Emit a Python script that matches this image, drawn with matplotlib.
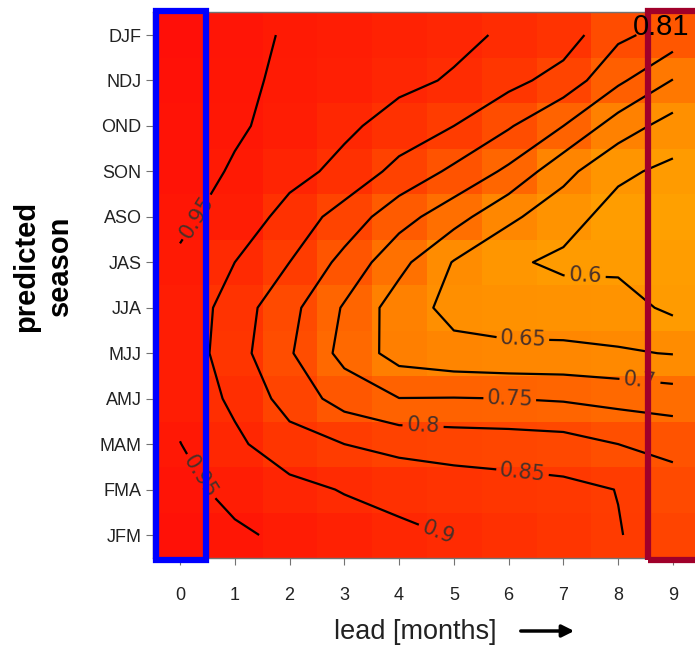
import numpy as np
import matplotlib
matplotlib.use("Agg")
import matplotlib.pyplot as plt
from matplotlib.colors import LinearSegmentedColormap
from matplotlib.patches import Rectangle, FancyArrowPatch

plt.rcParams["font.family"] = ["Liberation Sans", "DejaVu Sans"]

# lead time in months and predicted 3-month season (bottom to top)
leads = list(range(10))
seasons = ["JFM", "FMA", "MAM", "AMJ", "MJJ", "JJA",
           "JAS", "ASO", "SON", "OND", "NDJ", "DJF"]

# correlation skill per predicted season, lead 0..9
jfm = [0.975, 0.958, 0.940, 0.925, 0.910, 0.898, 0.885, 0.870, 0.852, 0.830]
fma = [0.965, 0.935, 0.915, 0.897, 0.885, 0.875, 0.868, 0.862, 0.849, 0.815]
mam = [0.951, 0.910, 0.870, 0.850, 0.835, 0.828, 0.825, 0.820, 0.800, 0.790]
amj = [0.935, 0.890, 0.830, 0.780, 0.751, 0.752, 0.750, 0.745, 0.735, 0.725]
mjj = [0.935, 0.870, 0.805, 0.735, 0.680, 0.665, 0.660, 0.660, 0.655, 0.648]
jja = [0.938, 0.875, 0.815, 0.745, 0.675, 0.635, 0.628, 0.625, 0.620, 0.590]
jas = [0.945, 0.900, 0.850, 0.785, 0.715, 0.647, 0.608, 0.590, 0.590, 0.580]
aso = [0.957, 0.935, 0.880, 0.830, 0.770, 0.720, 0.660, 0.620, 0.580, 0.570]
son = [0.967, 0.946, 0.918, 0.885, 0.835, 0.790, 0.740, 0.665, 0.610, 0.588]
ond = [0.970, 0.955, 0.938, 0.910, 0.880, 0.850, 0.805, 0.750, 0.675, 0.630]
ndj = [0.975, 0.958, 0.943, 0.930, 0.912, 0.895, 0.865, 0.830, 0.760, 0.698]
djf = [0.980, 0.962, 0.946, 0.935, 0.922, 0.912, 0.893, 0.875, 0.810, 0.780]

levels = [0.6, 0.65, 0.7, 0.75, 0.8, 0.85, 0.9, 0.95]
highlight_value = "0.81"

skill = np.array([jfm, fma, mam, amj, mjj, jja, jas, aso, son, ond, ndj, djf])
rows = np.arange(len(seasons))

# where the contour labels sit
label_spots = [(7.4, 5.76), (6.26, 4.33), (8.4, 3.41), (6.02, 2.97),
               (4.44, 2.46), (6.26, 1.45), (4.75, 0.18), (0.3, 7.0), (0.4, 1.3)]

cmap = LinearSegmentedColormap.from_list(
    "redorange",
    [(0.0, "#ffa500"), (0.22, "#ff8c00"), (0.44, "#ff6400"),
     (0.67, "#ff3c00"), (0.89, "#ff1905"), (1.0, "#ff0a0a")])

fig = plt.figure(figsize=(6.95, 6.45), dpi=100)
ax = fig.add_axes([0.2196, 0.1353, 0.788, 0.8456])

ax.imshow(skill, origin="lower", cmap=cmap, vmin=0.55, vmax=1.0,
          aspect="auto", interpolation="nearest",
          extent=(-0.5, 9.5, -0.5, 11.5))
cs = ax.contour(leads, rows, skill, levels=levels, colors="k", linewidths=1.6)
labels = ax.clabel(cs, manual=label_spots, fmt=lambda v: f"{v:g}",
                   fontsize=15, colors="#4a3028", inline=True,
                   inline_spacing=6)
for t in labels:
    t.set_family("DejaVu Sans")

ax.set_xlim(-0.5, 9.5)
ax.set_ylim(-0.5, 11.5)
ax.set_xticks(leads)
ax.set_yticks(rows)
ax.set_yticklabels(seasons)
ax.tick_params(axis="y", length=5, width=0.8, color="0.45", labelsize=13,
               pad=3, labelcolor="#222222")
ax.tick_params(axis="x", length=5, width=0.8, color="0.45", labelsize=13,
               pad=16, labelcolor="#222222")
for sp in ax.spines.values():
    sp.set_color("0.45")
    sp.set_linewidth(1)

# highlight boxes for lead 0 and lead 9
ax.add_patch(Rectangle((-0.43, -0.55), 0.91, 12.08, fill=False,
                       ec="#0000ff", lw=4.5, clip_on=False, zorder=5))
ax.add_patch(Rectangle((8.54, -0.55), 2.0, 12.08, fill=False,
                       ec="#a0002a", lw=4.5, clip_on=False, zorder=5))

fig.text(661 / 695, 1 - 27 / 645, highlight_value, fontsize=21,
         ha="center", va="center", color="k", zorder=10)

fig.text(0.062, 0.5876, "predicted\nseason", rotation=90, fontsize=21,
         fontweight="bold", ha="center", va="center", linespacing=1.3)
fig.text(415 / 695, 1 - 632 / 645, "lead [months]", fontsize=19.5,
         ha="center", va="center", color="#222222")
fig.add_artist(FancyArrowPatch((518 / 695, 1 - 631 / 645),
                               (577 / 695, 1 - 631 / 645),
                               transform=fig.transFigure, arrowstyle="-|>",
                               mutation_scale=18, lw=2.5, color="k"))

fig.savefig("out.png", dpi=100)
